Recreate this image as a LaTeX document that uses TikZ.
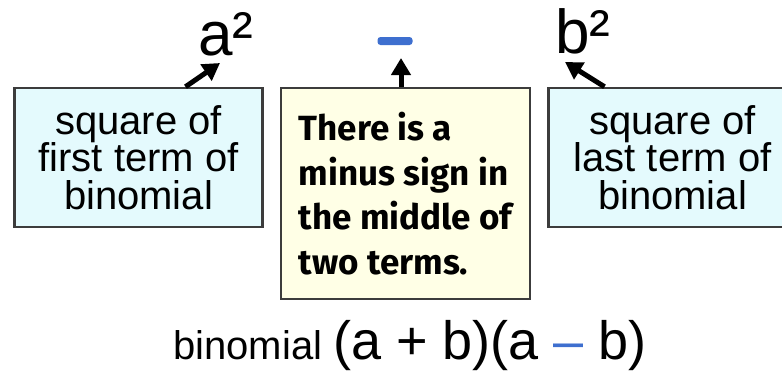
\documentclass[tikz,border=0pt]{standalone}
\usepackage{fontspec}
\setmainfont{Liberation Sans}
\newfontfamily\notefont{Fira Sans}
\usetikzlibrary{arrows.meta,positioning}

\definecolor{termfill}{HTML}{E4FAFD}
\definecolor{notefill}{HTML}{FFFFE6}
\definecolor{edgegray}{HTML}{3C3C3C}
\definecolor{minusblue}{HTML}{3E6FCF}

\begin{document}
\begin{tikzpicture}[x=1pt, y=-1pt,
  termbox/.style={rectangle, draw=edgegray, line width=2.5pt, fill=termfill,
    align=center, minimum width=248pt, minimum height=139pt, inner sep=0pt,
    font=\fontsize{40}{37.5}\selectfont},
  notebox/.style={rectangle, draw=edgegray, line width=2.5pt, fill=notefill,
    align=left, minimum width=249pt, minimum height=211pt, inner sep=0pt,
    font=\notefont\bfseries\fontsize{35}{44.5}\selectfont},
  square/.style={anchor=base, inner sep=0pt, font=\fontsize{62}{62}\selectfont},
  termarrow/.style={draw=black, line width=5pt, -{Triangle[length=17pt, width=19pt]}}
]
\useasboundingbox (0,0) rectangle (782,370);
\clip (0,0) rectangle (782,370);
% boxes
\node[notebox] (note) at (405.5,193.5) {There is a\\minus sign in\\the middle of\\two terms.};
\node[termbox, left=16pt of note.north west, anchor=north east] (first) {square of\\first term of\\binomial};
\node[termbox, right=16pt of note.north east, anchor=north west] (last) {square of\\last term of\\binomial};
% terms on top
\node[square] (asq) at (226,55) {a²};
\node[square] (bsq) at (583,53) {b²};
\node[fill=minusblue, rounded corners=3pt, minimum width=35pt, minimum height=8pt, inner sep=0pt] (minus) at (395,41) {};
% pointers
\path[termarrow] ([xshift=47pt]first.north) -- ([shift={(-6,8)}]asq.base);
\path[termarrow] ([xshift=-4.5pt]note.north) -- ([shift={(6,17)}]minus.center);
\path[termarrow] ([xshift=-68pt]last.north) -- ([shift={(-18,9)}]bsq.base);
% formula
\node[anchor=base west, inner sep=0pt] (formula) at (173,359) {\fontsize{40}{40}\selectfont binomial\ {\fontsize{54}{54}\selectfont (a + b)(a \textcolor{minusblue}{–} b)}};
\end{tikzpicture}
\end{document}
